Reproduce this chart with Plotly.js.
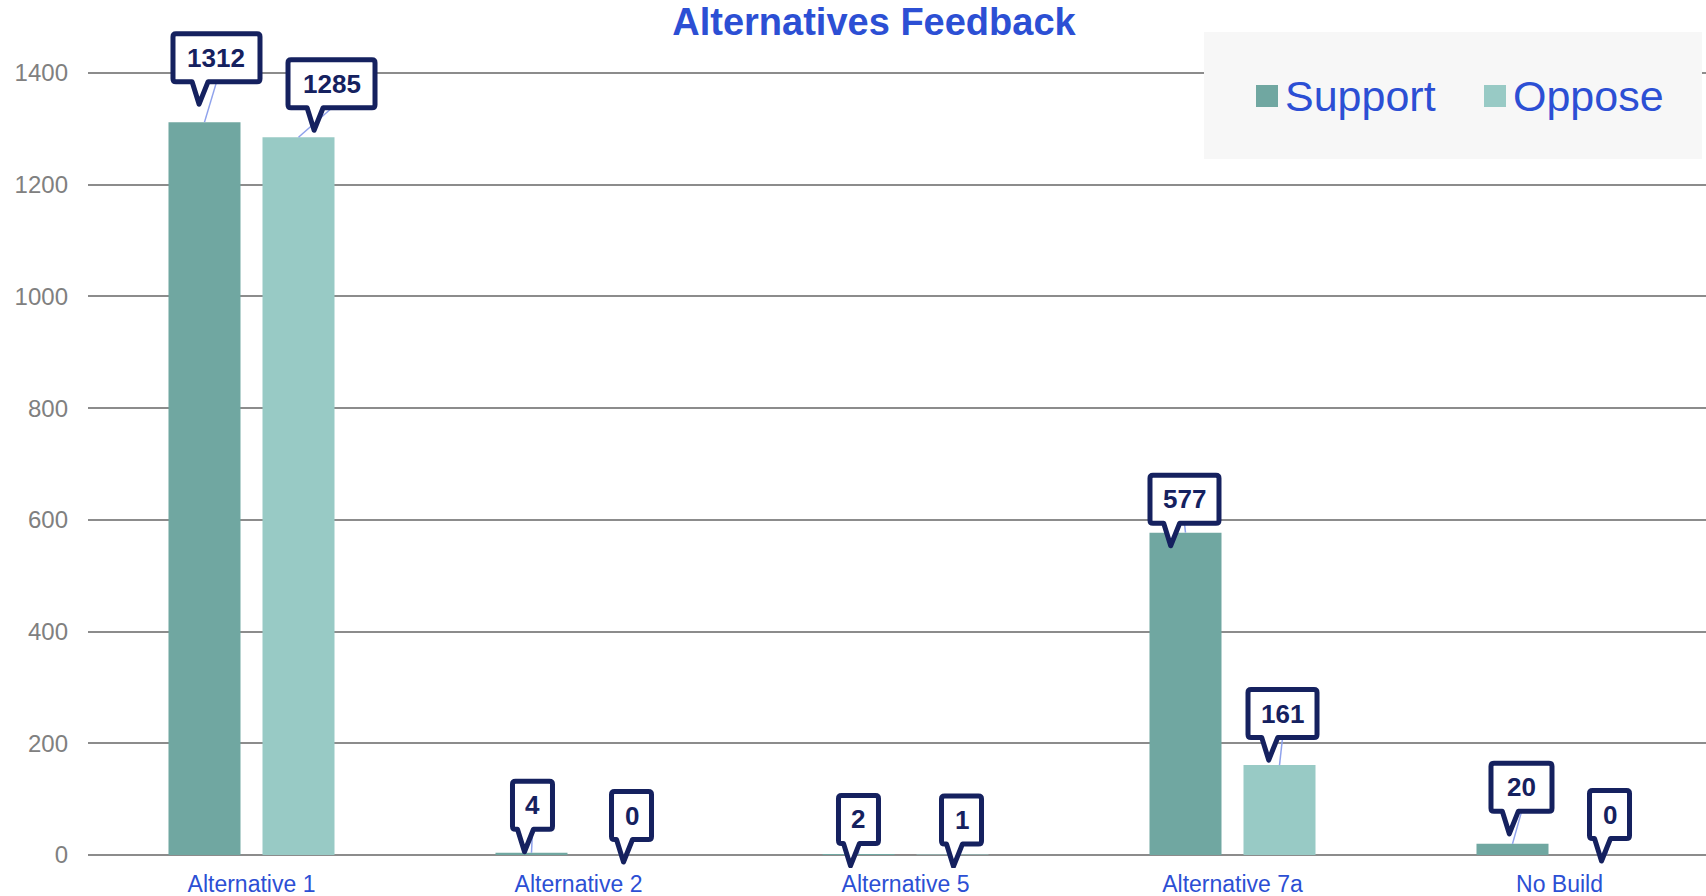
<!DOCTYPE html>
<html>
<head>
<meta charset="utf-8">
<script src="https://cdn.plot.ly/plotly-3.0.1.min.js"></script>
<style>
html,body{margin:0;padding:0;background:#ffffff;}
#chart{width:1706px;height:896px;}
.shapelayer path{stroke-linejoin:round;}
</style>
</head>
<body>
<div id="chart"></div>
<script>
// ---------- data ----------
const categories = ['Alternative 1', 'Alternative 2', 'Alternative 5', 'Alternative 7a', 'No Build'];
const seriesNames = ['Support', 'Oppose'];
const supportValues = [1312, 4, 2, 577, 20];
const opposeValues = [1285, 0, 1, 161, 0];
const yTickValues = [0, 200, 400, 600, 800, 1000, 1200, 1400];

// ---------- style ----------
const NAVY = '#15215f';
const BLUE = '#2c4fd4';
const GRID = '#8c8c8c';
const LEADER = '#8fa2ec';
const seriesColors = ['#70a7a1', '#98cac5'];
const FONT = 'Liberation Sans, Arial, sans-serif';
const BARGAP = 0.425, BARGROUPGAP = 0.234;
// callout box bottom-centre offset (px) from the bar top centre
const labelOffsets = [
  [[12, 38], [1, 21], [0, 8], [-1, 7], [9, 30]],
  [[33, 27], [6, 13], [9, 8], [3, 25], [3, 14]]
];
const boxWidthByDigits = {1: 45, 2: 66, 3: 74, 4: 92};
const BOX_H = 53, TAIL = 20, LW = 5, R = 3;

const W = 1706, H = 896;
const M = {l: 88, r: 0, t: 0, b: 28, autoexpand: false};
const plotW = W - M.l - M.r, plotH = H - M.t - M.b;
const pxToPaperX = px => (px - M.l) / plotW;
const pxToPaperY = py => (H - M.b - py) / plotH;

const seriesValues = [supportValues, opposeValues];

const traces = seriesValues.map((vals, s) => ({
  type: 'bar',
  name: seriesNames[s],
  x: categories,
  y: vals,
  marker: {color: seriesColors[s], line: {width: 0}},
  legend: s === 0 ? 'legend' : 'legend2',
  hoverinfo: 'skip'
}));

const shapes = [];
const annotations = [];

// legend background + enlarged keys
shapes.push({type: 'rect', xref: 'paper', yref: 'paper', layer: 'above',
  x0: pxToPaperX(1204), x1: pxToPaperX(1702), y0: pxToPaperY(159), y1: pxToPaperY(32),
  fillcolor: '#f7f7f7', line: {width: 0}});
[[1256, 1278], [1484, 1506]].forEach((xx, s) => {
  shapes.push({type: 'rect', xref: 'paper', yref: 'paper', layer: 'above',
    x0: pxToPaperX(xx[0]), x1: pxToPaperX(xx[1]), y0: pxToPaperY(107), y1: pxToPaperY(85),
    fillcolor: seriesColors[s], line: {width: 0}});
});

const off = (1 - BARGAP) / 4;
seriesValues.forEach((vals, s) => {
  vals.forEach((v, i) => {
    const xa = i + (s === 0 ? -off : off);
    const [dx, dy] = labelOffsets[s][i];
    const bw = boxWidthByDigits[String(v).length] - LW;
    const bh = BOX_H - LW;
    const L = dx - bw / 2, Rr = dx + bw / 2, B = dy + LW / 2, T = dy + LW / 2 + bh;
    const tx = L + 0.3 * bw, ty = dy - TAIL;
    const bl = tx - 7, br = tx + 9;
    const path = `M${L + R},${T} L${Rr - R},${T} Q${Rr},${T} ${Rr},${T - R} L${Rr},${B + R} Q${Rr},${B} ${Rr - R},${B} ` +
      `L${br},${B} L${tx},${ty} L${bl},${B} L${L + R},${B} Q${L},${B} ${L},${B + R} L${L},${T - R} Q${L},${T} ${L + R},${T} Z`;
    // leader line
    shapes.push({type: 'line', xref: 'x', yref: 'y', xsizemode: 'pixel', ysizemode: 'pixel',
      xanchor: xa, yanchor: v, x0: 0, y0: 0, x1: dx, y1: dy + 2, layer: 'above',
      line: {color: LEADER, width: 1.5}});
    // callout bubble
    shapes.push({type: 'path', xref: 'x', yref: 'y', xsizemode: 'pixel', ysizemode: 'pixel',
      xanchor: xa, yanchor: v, path: path, layer: 'above',
      fillcolor: '#ffffff', line: {color: NAVY, width: LW}});
    annotations.push({xref: 'x', yref: 'y', x: xa, y: v, text: '<b>' + v + '</b>', showarrow: false,
      xanchor: 'center', yanchor: 'middle', xshift: dx, yshift: dy + BOX_H / 2,
      font: {family: FONT, size: 26, color: NAVY}});
  });
});

const unitsPerPx = 1400 / 782;
const layout = {
  width: W, height: H,
  margin: M,
  paper_bgcolor: '#ffffff', plot_bgcolor: '#ffffff',
  barmode: 'group', bargap: BARGAP, bargroupgap: BARGROUPGAP,
  title: {text: 'Alternatives Feedback', xref: 'container', yref: 'container',
    x: 874 / W, xanchor: 'center', y: 1 - 22 / H, yanchor: 'middle',
    font: {family: FONT, size: 38, color: BLUE, weight: 'bold'}},
  xaxis: {type: 'category', range: [-0.5, -0.5 + plotW / 327], showgrid: false, zeroline: false,
    showline: false, ticks: '', tickfont: {family: FONT, size: 23, color: BLUE}, ticklabelstandoff: 0,
    fixedrange: true},
  yaxis: {range: [-13 * unitsPerPx, 855 * unitsPerPx], tickvals: yTickValues, ticktext: yTickValues.map(String),
    showgrid: true, gridcolor: GRID, gridwidth: 2, zeroline: true, zerolinecolor: GRID, zerolinewidth: 2,
    showline: false, ticks: '', tickfont: {family: FONT, size: 24, color: '#808080'}, ticklabelstandoff: 19,
    fixedrange: true},
  showlegend: true,
  legend: {orientation: 'h', xref: 'container', yref: 'container', x: 1245 / W, y: 1 - 94 / H,
    xanchor: 'left', yanchor: 'middle', bgcolor: 'rgba(0,0,0,0)', borderwidth: 0,
    font: {family: FONT, size: 43, color: BLUE}},
  legend2: {orientation: 'h', xref: 'container', yref: 'container', x: 1473 / W, y: 1 - 94 / H,
    xanchor: 'left', yanchor: 'middle', bgcolor: 'rgba(0,0,0,0)', borderwidth: 0,
    font: {family: FONT, size: 43, color: BLUE}},
  shapes: shapes,
  annotations: annotations
};

Plotly.newPlot('chart', traces, layout, {displayModeBar: false, staticPlot: true});
</script>
</body>
</html>
